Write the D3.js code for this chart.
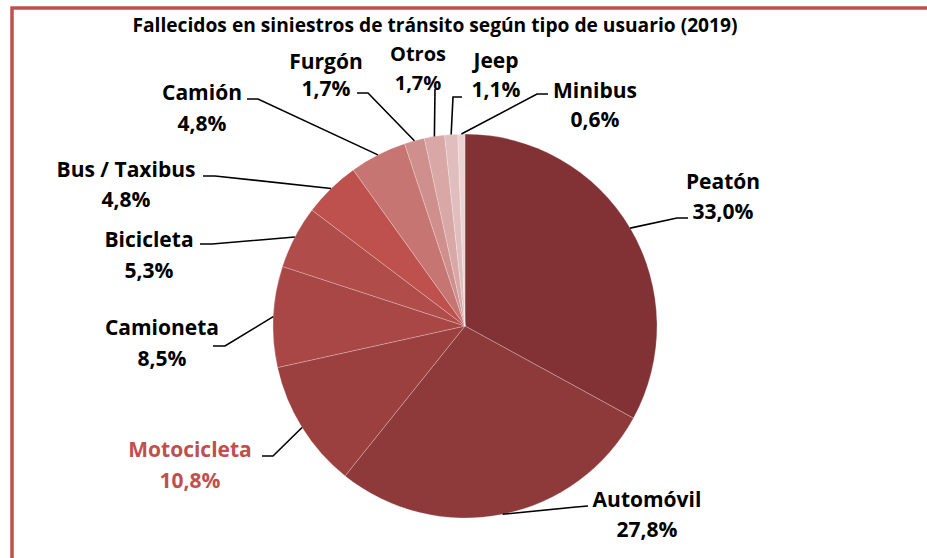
<!DOCTYPE html>
<html>
<head>
<meta charset="utf-8">
<script src="https://cdn.jsdelivr.net/npm/d3@7"></script>
<style>
  html, body { margin: 0; padding: 0; background: #ffffff; }
  svg { display: block; }
  text { font-family: "Open Sans", Lato, "DejaVu Sans", sans-serif; font-weight: bold; }
</style>
</head>
<body>
<svg id="chart" width="927" height="558"></svg>
<script>
// ---- data ----
const title = "Fallecidos en siniestros de tránsito según tipo de usuario (2019)";
const categories = ["Peatón", "Automóvil", "Motocicleta", "Camioneta", "Bicicleta", "Bus / Taxibus", "Camión", "Furgón", "Otros", "Jeep", "Minibus"];
const values = [33.0, 27.8, 10.8, 8.5, 5.3, 4.8, 4.8, 1.7, 1.7, 1.1, 0.6];
const valueLabels = ["33,0%", "27,8%", "10,8%", "8,5%", "5,3%", "4,8%", "4,8%", "1,7%", "1,7%", "1,1%", "0,6%"];

// ---- styling / layout ----
const colors = ["#823234", "#8e3a3a", "#9c403f", "#a84746", "#b04c4a", "#be514e", "#c67572", "#cf8f8d", "#d8a7a6", "#e0bebe", "#ebd3d3"];
const labelColors = ["#000", "#000", "#c0504d", "#000", "#000", "#000", "#000", "#000", "#000", "#000", "#000"];
// label text: center x, first baseline y, second baseline y; leader: elbow + end points
const labelLayout = [
  {x: 723, y1: 189, y2: 219, pts: [[677, 218], [688, 218]]},
  {x: 647, y1: 507, y2: 537, pts: [[576, 507], [588, 506]]},
  {x: 190, y1: 457, y2: 488, pts: [[273, 456], [262, 456]]},
  {x: 162, y1: 335, y2: 366, pts: [[225, 346], [213, 346]]},
  {x: 149, y1: 247, y2: 278, pts: [[212, 244], [200, 244]]},
  {x: 126, y1: 177, y2: 207, pts: [[215, 176], [203, 176]]},
  {x: 202, y1: 100, y2: 131, pts: [[258, 99], [247, 99]]},
  {x: 326, y1: 69, y2: 96, pts: [[368, 93], [357, 93]]},
  {x: 418, y1: 61, y2: 90, pts: [[435, 89]]},
  {x: 496, y1: 68, y2: 97, pts: [[453, 97], [462, 97]]},
  {x: 595, y1: 98, y2: 127, pts: [[537, 94], [548, 94]]}
];

const svg = d3.select("#chart");
const cx = 465, cy = 326, r = 192;

// frame
svg.append("path")
  .attr("d", "M12,558 L12,8 L927,8")
  .attr("fill", "none")
  .attr("stroke", "#c0504d")
  .attr("stroke-width", 3.5);

// title
svg.append("text")
  .attr("x", 435).attr("y", 32)
  .attr("text-anchor", "middle")
  .attr("font-size", 19.2)
  .attr("fill", "#000")
  .text(title);

const pie = d3.pie().value(d => d).sort(null);
const arcs = pie(values);
const arc = d3.arc().innerRadius(0).outerRadius(r);

const g = svg.append("g").attr("transform", `translate(${cx},${cy})`);
g.selectAll("path.slice")
  .data(arcs)
  .join("path")
  .attr("class", "slice")
  .attr("d", arc)
  .attr("fill", (d, i) => colors[i])
  .attr("stroke", "rgba(255,255,255,0.3)")
  .attr("stroke-width", 0.8);

// leader lines
const line = d3.line();
arcs.forEach((d, i) => {
  const a = (d.startAngle + d.endAngle) / 2;
  const p0 = [cx + r * Math.sin(a), cy - r * Math.cos(a)];
  const pts = [p0].concat(labelLayout[i].pts);
  svg.append("path")
    .attr("d", line(pts))
    .attr("fill", "none")
    .attr("stroke", "#000")
    .attr("stroke-width", 1.6);
});

// labels
categories.forEach((c, i) => {
  const L = labelLayout[i];
  const t = svg.append("g").attr("fill", labelColors[i]).attr("font-size", i === 8 ? 20 : 21).attr("text-anchor", "middle");
  t.append("text").attr("x", L.x).attr("y", L.y1).text(c);
  t.append("text").attr("x", L.x).attr("y", L.y2).text(valueLabels[i]);
});
</script>
</body>
</html>
